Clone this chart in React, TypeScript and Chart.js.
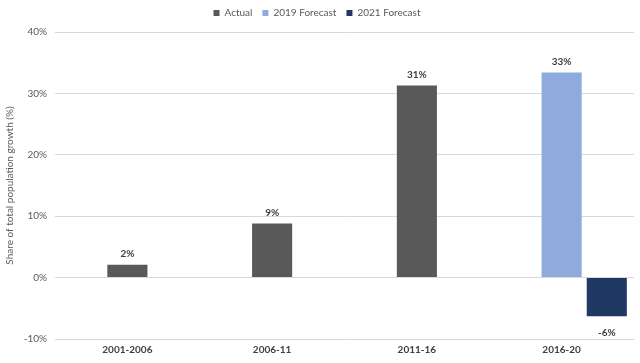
import React, { useEffect, useRef } from "react";
import { Chart, registerables } from "chart.js";

Chart.register(...registerables);

const categories = ["2001-2006", "2006-11", "2011-16", "2016-20"];
const actual = [2.1, 8.8, 31.3, null];
const forecast2019 = [null, null, null, 33.4];
const forecast2021 = [null, null, null, -6.3];
const seriesNames = ["Actual", "2019 Forecast", "2021 Forecast"];
const yTicks = [-10, 0, 10, 20, 30, 40];

const FONT = "Lato, 'Open Sans', sans-serif";

const valueLabels = {
  id: "valueLabels",
  afterDatasetsDraw(chart: any) {
    const ctx = chart.ctx;
    ctx.save();
    ctx.font = `bold 10px ${FONT}`;
    ctx.fillStyle = "#404040";
    ctx.textAlign = "center";
    ctx.textBaseline = "middle";
    chart.data.datasets.forEach((ds: any, di: number) => {
      if (!ds.label) return;
      const meta = chart.getDatasetMeta(di);
      meta.data.forEach((el: any, i: number) => {
        const v = ds.data[i];
        if (v === null || v === undefined) return;
        const txt = `${Math.round(v)}%`;
        if (v >= 0) ctx.fillText(txt, el.x, el.y - 11);
        else ctx.fillText(txt, el.x, el.y + 16);
      });
    });
    ctx.restore();
  },
};

const legendGap = {
  id: "legendGap",
  afterInit(chart: any) {
    const lg = chart.legend;
    if (!lg) return;
    const orig = lg.fit;
    lg.fit = function () {
      orig.call(this);
      this.height += 4;
    };
  },
};

export default function App() {
  const ref = useRef<HTMLCanvasElement>(null);
  useEffect(() => {
    document.body.style.margin = "0";
    const chart = new Chart(ref.current!, {
      type: "bar",
      data: {
        labels: categories,
        datasets: [
          {
            label: seriesNames[0],
            data: actual,
            backgroundColor: "#595959",
            grouped: false,
            categoryPercentage: 1,
            barPercentage: 0.277,
          } as any,
          {
            label: seriesNames[1],
            data: forecast2019,
            backgroundColor: "#8faadc",
            grouped: false,
            categoryPercentage: 1,
            barPercentage: 0.277,
          } as any,
          {
            label: "",
            data: [null, null, null, null],
            backgroundColor: "rgba(0,0,0,0)",
            grouped: true,
            categoryPercentage: 1.248,
            barPercentage: 0.444,
          } as any,
          {
            label: seriesNames[2],
            data: forecast2021,
            backgroundColor: "#203864",
            grouped: true,
            categoryPercentage: 1.248,
            barPercentage: 0.444,
          } as any,
        ],
      },
      options: {
        animation: false,
        responsive: false,
        maintainAspectRatio: false,
        layout: { padding: { top: -2, right: 6, bottom: 0, left: 0 } },
        plugins: {
          tooltip: { enabled: false },
          legend: {
            position: "top",
            labels: {
              filter: (item: any) => item.text !== "",
              boxWidth: 6,
              boxHeight: 6,
              padding: 10,
              color: "#595959",
              font: { size: 10, family: FONT },
            },
          },
        },
        scales: {
          x: {
            grid: { display: false, drawTicks: false },
            border: { display: false },
            afterFit: (scale: any) => {
              scale.height = 24;
            },
            ticks: {
              color: "#404040",
              font: { size: 10, weight: "bold", family: FONT },
              padding: 5,
            },
          },
          y: {
            min: yTicks[0],
            max: yTicks[yTicks.length - 1],
            afterBuildTicks: (scale: any) => {
              scale.ticks = yTicks.map((v) => ({ value: v }));
            },
            afterFit: (scale: any) => {
              scale.width = 55;
            },
            grid: { color: "#d9d9d9", drawTicks: false },
            border: { display: false },
            ticks: {
              color: "#595959",
              font: { size: 10, family: FONT },
              padding: 8,
              callback: (v: any) => `${v}%`,
            },
            title: {
              display: true,
              text: "Share of total population growth (%)",
              color: "#595959",
              font: { size: 10, family: FONT },
              padding: { top: 4, bottom: 0 },
            },
          },
        },
      },
      plugins: [valueLabels, legendGap],
    });
    return () => chart.destroy();
  }, []);
  return (
    <div style={{ width: 640, height: 363 }}>
      <canvas ref={ref} width={640} height={363} style={{ width: 640, height: 363 }} />
    </div>
  );
}
